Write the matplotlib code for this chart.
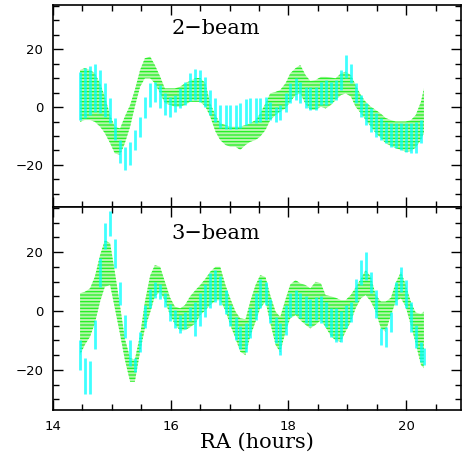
import numpy as np
import matplotlib.pyplot as plt
from matplotlib.ticker import MultipleLocator

# RA sample positions (hours)
ra = [14.46, 14.54, 14.63, 14.71, 14.80, 14.88, 14.97, 15.05, 15.14, 15.22,
      15.31, 15.39, 15.48, 15.56, 15.65, 15.73, 15.82, 15.90, 15.99, 16.07,
      16.16, 16.24, 16.33, 16.42, 16.50, 16.59, 16.67, 16.76, 16.84, 16.93,
      17.01, 17.10, 17.18, 17.27, 17.35, 17.44, 17.52, 17.61, 17.69, 17.78,
      17.86, 17.95, 18.03, 18.12, 18.20, 18.29, 18.37, 18.46, 18.55, 18.63,
      18.72, 18.80, 18.89, 18.97, 19.06, 19.14, 19.23, 19.31, 19.40, 19.48,
      19.57, 19.65, 19.74, 19.82, 19.91, 19.99, 20.08, 20.16, 20.25, 20.30]

# 2-beam: green band
g2_hi = [12.8, 13.4, 12.8, 11.6, 8.2, 3.6, -2.8, -6.8, -7.4, -3.3,
         0.7, 5.9, 12.8, 16.8, 17.4, 14.5, 10.5, 6.4, 6.4, 6.4,
         7.0, 8.2, 9.0, 10.0, 10.0, 8.2, 1.3, -2.8, -5.6, -6.2,
         -6.8, -6.8, -6.8, -6.2, -5.6, -4.5, -2.2, 1.3, 4.7, 5.2,
         5.9, 8.2, 11.6, 13.4, 14.5, 11.0, 9.0, 9.3, 10.4, 10.4,
         10.2, 9.9, 11.6, 12.2, 11.0, 7.6, 4.1, 1.8, 0.1, -1.0,
         -2.3, -3.8, -4.5, -5.0, -5.0, -5.0, -4.5, -2.8, 1.8, 6.4]
g2_lo = [-5.1, -4.5, -4.5, -5.1, -6.8, -9.0, -12.5, -16.0, -16.5, -12.5,
         -6.8, 0.1, 7.0, 9.9, 9.9, 8.2, 4.7, 1.3, 0.7, 0.1,
         0.1, 0.7, 1.8, 1.8, 1.8, 0.1, -3.3, -8.5, -11.4, -13.1,
         -13.7, -13.7, -14.8, -13.1, -12.0, -11.4, -10.2, -7.9, -4.5, -2.8,
         -1.6, -0.5, 1.8, 4.1, 4.7, 1.0, -1.0, -1.0, 0.1, -0.5,
         0.7, 2.4, 4.1, 4.7, 3.6, 0.1, -2.2, -4.5, -6.8, -9.0,
         -10.7, -12.5, -13.4, -14.2, -14.8, -15.4, -15.2, -14.0, -11.4, -9.0]
# 2-beam: cyan bars
c2_hi = [12.2, 13.4, 14.0, 14.9, 12.8, 8.2, 3.0, -3.9, -11.4, -13.7,
         -12.0, -7.9, -3.3, 3.6, 8.2, 8.7, 7.6, 4.7, 3.6, 4.1,
         6.4, 8.7, 11.6, 13.0, 12.8, 10.5, 5.9, 3.0, 0.7, 0.7,
         0.7, 0.7, 1.3, 2.6, 3.0, 3.0, 3.0, 3.3, 1.8, 0.1,
         0.7, 4.7, 8.2, 10.0, 8.7, 7.0, 7.0, 7.0, 8.7, 9.3,
         8.7, 9.3, 12.8, 17.9, 15.0, 8.2, 4.1, 1.3, -0.5, -2.2,
         -3.9, -5.0, -5.6, -5.6, -5.6, -5.6, -5.6, -5.0, -4.5, np.nan]
c2_lo = [-4.5, -3.9, -2.8, -1.6, -2.2, -3.3, -5.6, -11.4, -19.4, -21.7,
         -20.0, -14.8, -10.2, -3.9, 0.1, 1.8, -0.5, -2.8, -3.3, -1.6,
         -0.5, 0.7, 2.0, 2.4, 1.8, 0.1, -2.8, -5.0, -7.4, -7.6,
         -7.6, -7.6, -7.4, -6.2, -5.6, -5.6, -5.0, -4.5, -4.5, -5.0,
         -4.5, -1.6, 1.3, 2.4, 1.3, -0.5, -1.0, -1.0, 0.7, 0.7,
         1.3, 2.4, 5.9, 9.9, 8.2, 1.3, -3.3, -6.2, -8.5, -10.2,
         -11.4, -12.5, -13.7, -14.2, -14.8, -15.4, -16.0, -16.0, -12.5, np.nan]

# 3-beam: green band
g3_hi = [6.0, 6.5, 7.7, 11.6, 19.0, 24.0, 23.0, 13.3, 1.5, -9.3,
         -16.0, -16.5, -8.1, 3.0, 12.0, 15.6, 15.0, 10.0, 4.5, 1.5,
         0.9, 2.0, 5.0, 7.1, 8.8, 11.0, 13.3, 15.0, 15.0, 8.8,
         4.3, -0.2, -2.5, -2.8, 3.2, 8.8, 12.2, 11.5, 5.4, -0.2,
         -2.0, 4.0, 9.0, 10.5, 9.4, 8.8, 7.7, 9.9, 9.4, 5.4,
         5.0, 4.5, 3.7, 3.7, 5.5, 8.0, 11.0, 13.9, 11.6, 5.5,
         3.2, 3.2, 4.5, 9.5, 13.3, 9.0, 3.0, -0.5, -1.0, -0.2]
g3_lo = [-14.9, -11.5, -8.7, -4.2, 3.2, 8.2, 8.8, 1.0, -8.0, -16.5,
         -24.0, -24.0, -13.8, -6.0, -0.5, 5.0, 6.5, 3.5, -1.5, -4.5,
         -6.7, -6.5, -5.5, -4.2, -1.4, 0.3, 2.0, 3.5, 3.7, 0.0,
         -4.7, -9.3, -13.8, -15.0, -8.7, -3.6, 0.9, 3.2, -4.0, -11.5,
         -14.0, -7.0, -2.5, -1.4, -3.1, -4.7, -5.9, -4.7, -3.1, -5.5,
         -8.5, -10.0, -10.4, -7.0, -3.6, 0.9, 4.3, 5.4, 3.2, -0.2,
         -5.9, -7.0, -1.4, 3.2, 4.3, 1.5, -5.0, -11.0, -18.3, -19.4]
# 3-beam: cyan bars
c3_hi = [-10.0, -16.0, -17.0, -3.0, 18.0, 30.0, 34.0, 24.6, 10.0, -1.4,
         -10.0, -16.0, -7.0, 2.0, 7.5, 9.8, 9.0, 6.0, 2.5, 0.2,
         -1.2, -0.5, 1.5, 3.0, 6.0, 9.0, 13.0, 14.0, 12.0, 7.0,
         2.0, -2.0, -5.0, -4.0, 1.0, 6.0, 11.0, 10.0, 4.0, -2.0,
         -4.0, 2.0, 6.0, 7.0, 6.0, 5.0, 4.0, 4.9, 5.0, 3.0,
         0.9, 0.9, 0.0, 2.0, 3.0, 11.0, 17.3, 20.1, 13.3, 7.1,
         -5.9, -5.3, -0.2, 9.9, 15.0, 10.5, 3.2, -4.7, -10.4, -12.7]
c3_lo = [-20.0, -28.0, -28.0, -13.0, 8.0, 21.0, 25.5, 14.5, 2.0, -9.3,
         -18.5, -20.6, -13.8, -5.9, 1.0, 4.5, 4.0, 1.5, -3.5, -5.6,
         -7.6, -6.0, -3.5, -8.5, -5.0, -2.0, 1.0, 3.0, 2.0, -1.0,
         -5.0, -10.0, -13.0, -14.0, -9.0, -3.0, 1.0, 2.0, -4.0, -11.0,
         -15.0, -8.0, -2.0, -1.0, -2.5, -4.0, -5.0, -3.1, -4.0, -5.5,
         -8.7, -10.4, -10.5, -5.9, -3.6, 3.2, 8.8, 10.5, 6.0, -2.5,
         -11.5, -12.1, -7.0, 2.0, 6.5, 0.9, -7.0, -12.7, -17.2, -18.3]

plt.rcParams['hatch.linewidth'] = 0.9

fig = plt.figure(figsize=(4.64, 4.53), dpi=100)
W, H = 464, 453
ax1 = fig.add_axes([53 / W, 1 - 207 / H, (461 - 53) / W, 202 / H])
ax2 = fig.add_axes([53 / W, 1 - 410 / H, (461 - 53) / W, 203 / H])


def panel(ax, glo, ghi, clo, chi, label, ylim, ylab):
    ax.fill_between(ra, glo, ghi, facecolor='#b4f5aa', edgecolor='#22f022',
                    hatch='-----', linewidth=0)
    ax.vlines(ra, clo, chi, colors='#00ffff', linewidth=2.0, alpha=0.75)
    ax.text(16.77, ylab, label, family='DejaVu Serif', fontsize=15,
            ha='center', va='center')
    ax.set_xlim(14, 20.93)
    ax.set_ylim(*ylim)
    ax.xaxis.set_major_locator(MultipleLocator(2))
    ax.xaxis.set_minor_locator(MultipleLocator(0.5))
    ax.yaxis.set_major_locator(MultipleLocator(20))
    ax.yaxis.set_minor_locator(MultipleLocator(5))
    ax.tick_params(which='both', direction='in', top=True, right=True,
                   width=1, labelsize=9.5)
    ax.tick_params(which='major', length=7, pad=7)
    ax.tick_params(which='minor', length=4)
    for s in ax.spines.values():
        s.set_linewidth(1.2)


panel(ax1, g2_lo, g2_hi, c2_lo, c2_hi, '2\u2212beam', (-34.5, 35.2), 27.0)
panel(ax2, g3_lo, g3_hi, c3_lo, c3_hi, '3\u2212beam', (-33.6, 35.3), 26.4)
ax1.tick_params(labelbottom=False)
ax2.set_xlabel('RA (hours)', family='DejaVu Serif', fontsize=15, labelpad=0)

fig.savefig('out.png', dpi=100)
